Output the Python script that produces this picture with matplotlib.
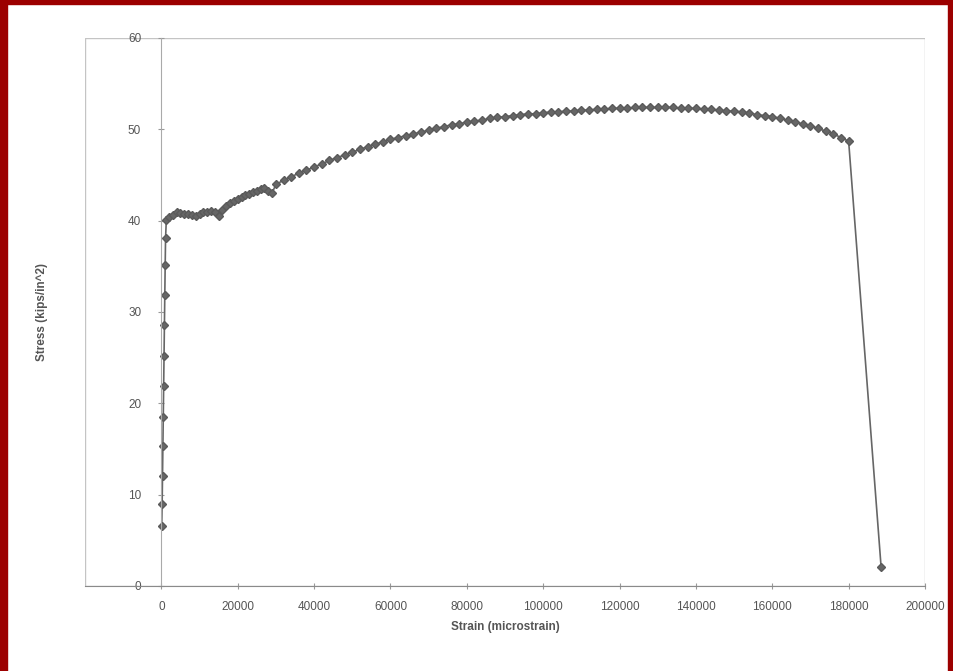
import matplotlib.pyplot as plt
from matplotlib.patches import Rectangle

plt.rcParams['font.family'] = ['Liberation Sans', 'DejaVu Sans']

# Datos: deformacion (microstrain) y esfuerzo (kips/in^2)
strain_elastic = [100, 200, 300, 400, 500, 600, 700, 800, 900, 1000, 1100, 1300]
stress_elastic = [6.6, 9.0, 12.0, 15.3, 18.5, 21.9, 25.2, 28.6, 31.9, 35.1, 38.1, 40.1]

strain_plateau = [2000, 3000, 4000, 5000, 6000, 7000, 8000, 9000, 10000, 11000,
                  12000, 13000, 14000, 15000, 16000, 17000, 18000, 19000, 20000,
                  21000, 22000, 23000, 24000, 25000, 26000, 27000, 28000, 29000]
stress_plateau = [40.4, 40.6, 40.9, 40.8, 40.7, 40.7, 40.6, 40.5, 40.7, 40.9,
                  41.0, 41.1, 40.9, 40.5, 41.2, 41.6, 41.9, 42.2, 42.4,
                  42.6, 42.8, 42.9, 43.1, 43.3, 43.5, 43.6, 43.2, 43.0]

strain_hardening = [30000, 32000, 34000, 36000, 38000, 40000, 42000, 44000, 46000,
                    48000, 50000, 52000, 54000, 56000, 58000, 60000, 62000, 64000,
                    66000, 68000, 70000, 72000, 74000, 76000, 78000, 80000, 82000,
                    84000, 86000, 88000, 90000, 92000, 94000, 96000, 98000, 100000,
                    102000, 104000, 106000, 108000, 110000, 112000, 114000, 116000,
                    118000, 120000, 122000, 124000, 126000, 128000, 130000, 132000,
                    134000, 136000, 138000, 140000, 142000, 144000, 146000, 148000,
                    150000, 152000, 154000, 156000, 158000, 160000, 162000, 164000,
                    166000, 168000, 170000, 172000, 174000, 176000, 178000, 180000]
stress_hardening = [44.0, 44.4, 44.8, 45.2, 45.5, 45.9, 46.2, 46.6, 46.9,
                    47.2, 47.5, 47.8, 48.1, 48.4, 48.6, 48.9, 49.1, 49.3,
                    49.5, 49.7, 49.9, 50.1, 50.3, 50.5, 50.6, 50.8, 50.9,
                    51.0, 51.2, 51.3, 51.4, 51.5, 51.6, 51.7, 51.7, 51.8,
                    51.9, 51.9, 52.0, 52.0, 52.1, 52.1, 52.2, 52.2,
                    52.3, 52.3, 52.3, 52.4, 52.4, 52.4, 52.4, 52.4,
                    52.4, 52.3, 52.3, 52.3, 52.2, 52.2, 52.1, 52.0,
                    52.0, 51.9, 51.8, 51.6, 51.5, 51.4, 51.2, 51.0,
                    50.8, 50.6, 50.4, 50.1, 49.8, 49.5, 49.1, 48.7]

strain_rupture = [188500]
stress_rupture = [2.1]

strain = strain_elastic + strain_plateau + strain_hardening + strain_rupture
stress = stress_elastic + stress_plateau + stress_hardening + stress_rupture

fig = plt.figure(figsize=(9.54, 6.71), dpi=100)
fig.patch.set_facecolor('white')

# borde rojo del documento escaneado
red = '#9c0000'
fig.patches.append(Rectangle((0, 0), 7 / 954, 1, transform=fig.transFigure,
                             color=red, zorder=0))
fig.patches.append(Rectangle((0, 1 - 4 / 671), 1, 4 / 671, transform=fig.transFigure,
                             color=red, zorder=0))
fig.patches.append(Rectangle((1 - 6 / 954, 0), 6 / 954, 1, transform=fig.transFigure,
                             color=red, zorder=0))

ax = fig.add_axes([85 / 954, 1 - 586 / 671, 840 / 954, 548 / 671])
ax.plot(strain, stress, color='#666666', marker='D', markersize=4,
        linewidth=1.2, markeredgecolor='#5a5a5a')

ax.set_xlim(-20000, 200000)
ax.set_ylim(0, 60)
ax.set_xticks(range(0, 200001, 20000))
ax.set_yticks(range(0, 61, 10))

ax.spines['left'].set_position(('data', 0))
ax.spines['top'].set_visible(False)
ax.spines['right'].set_visible(False)
ax.spines['left'].set_color('#aaaaaa')
ax.spines['bottom'].set_color('#8a8a8a')
ax.add_patch(Rectangle((0, 0), 1, 1, transform=ax.transAxes, fill=False,
                       edgecolor='#c4c4c4', linewidth=1.0, zorder=0))

ax.tick_params(axis='both', direction='inout', length=5, color='#999999',
               labelsize=8.5, labelcolor='#555555')
ax.tick_params(axis='y', pad=12)
ax.tick_params(axis='x', pad=8)

ax.set_xlabel('Strain (microstrain)', fontsize=8.5, fontweight='bold', color='#555555',
              labelpad=6)
fig.text(42 / 954, 1 - 312 / 671, 'Stress (kips/in^2)', rotation=90, fontsize=8.5,
         fontweight='bold', color='#555555', ha='center', va='center')

fig.savefig('out.png', dpi=100)
